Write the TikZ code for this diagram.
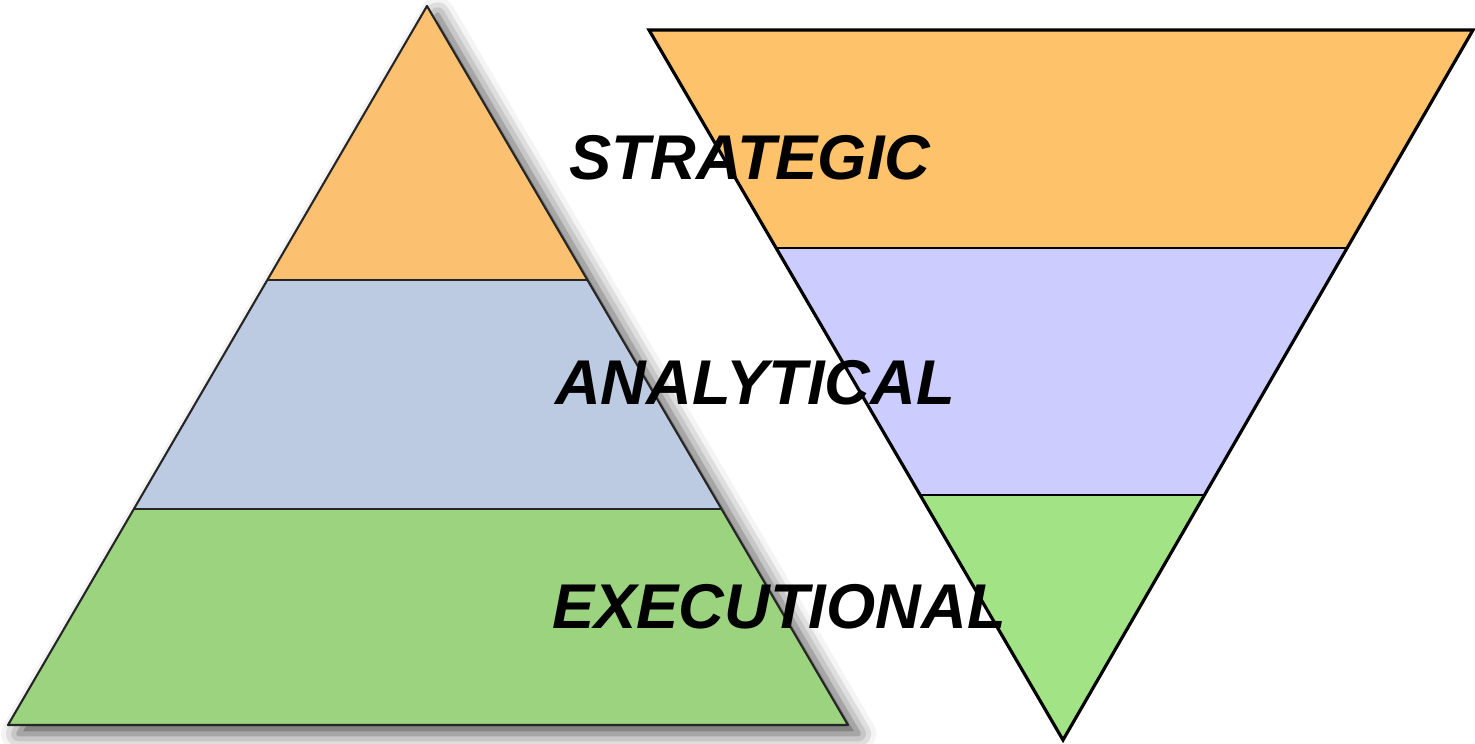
\documentclass[tikz,border=0pt]{standalone}
\usepackage{fontspec}
\setmainfont{Liberation Sans}
\usetikzlibrary{calc,shadows.blur}
\definecolor{pyrtop}{HTML}{FBC070}
\definecolor{pyrmid}{HTML}{BDCBE2}
\definecolor{pyrlow}{HTML}{9BD37F}
\definecolor{funtop}{HTML}{FEC26A}
\definecolor{funmid}{HTML}{CCCCFF}
\definecolor{funlow}{HTML}{A2E386}

\begin{document}
\begin{tikzpicture}[x=0.02cm,y=-0.02cm,
        level/.style={font=\bfseries\itshape\fontsize{36}{36}\selectfont, inner sep=0pt}]
        \useasboundingbox (0,0) rectangle (1475,744);
        % left pyramid
        \coordinate (A) at (427,6);
        \coordinate (B) at (8,725);
        \coordinate (C) at (848,725);
        \fill[white, blur shadow={shadow xshift=6pt, shadow yshift=-5pt, shadow blur radius=10pt, shadow opacity=70}] (A) -- (B) -- (C) -- cycle;
        \coordinate (L1) at ($(A)!0.381!(B)$);
        \coordinate (R1) at ($(A)!0.381!(C)$);
        \coordinate (L2) at ($(A)!0.6996!(B)$);
        \coordinate (R2) at ($(A)!0.6996!(C)$);
        \fill[pyrtop] (A) -- (L1) -- (R1) -- cycle;
        \fill[pyrmid] (L1) -- (L2) -- (R2) -- (R1) -- cycle;
        \fill[pyrlow] (L2) -- (B) -- (C) -- (R2) -- cycle;
        \draw[line width=0.9pt, black!85] (L1) -- (R1) (L2) -- (R2);
        \draw[line width=1.2pt, black!85, line join=round] (A) -- (B) -- (C) -- cycle;
        % right funnel
        \coordinate (P) at (649,30);
        \coordinate (Q) at (1473,30);
        \coordinate (V) at (1063,740);
        \coordinate (U1) at ($(P)!0.307!(V)$);
        \coordinate (W1) at ($(Q)!0.307!(V)$);
        \coordinate (U2) at ($(P)!0.655!(V)$);
        \coordinate (W2) at ($(Q)!0.655!(V)$);
        \fill[funtop] (P) -- (Q) -- (W1) -- (U1) -- cycle;
        \fill[funmid] (U1) -- (W1) -- (W2) -- (U2) -- cycle;
        \fill[funlow] (U2) -- (W2) -- (V) -- cycle;
        \draw[line width=1pt] (U1) -- (W1) (U2) -- (W2);
        \draw[line width=1.8pt, line join=miter] (P) -- (Q) -- (V) -- cycle;
        % labels
        \node[level] (strat) at (750,158) {STRATEGIC};
        \node[level] (analy) at (755,383) {ANALYTICAL};
        \node[level] (exec) at (779,607) {EXECUTIONAL};
    \end{tikzpicture}
\end{document}
